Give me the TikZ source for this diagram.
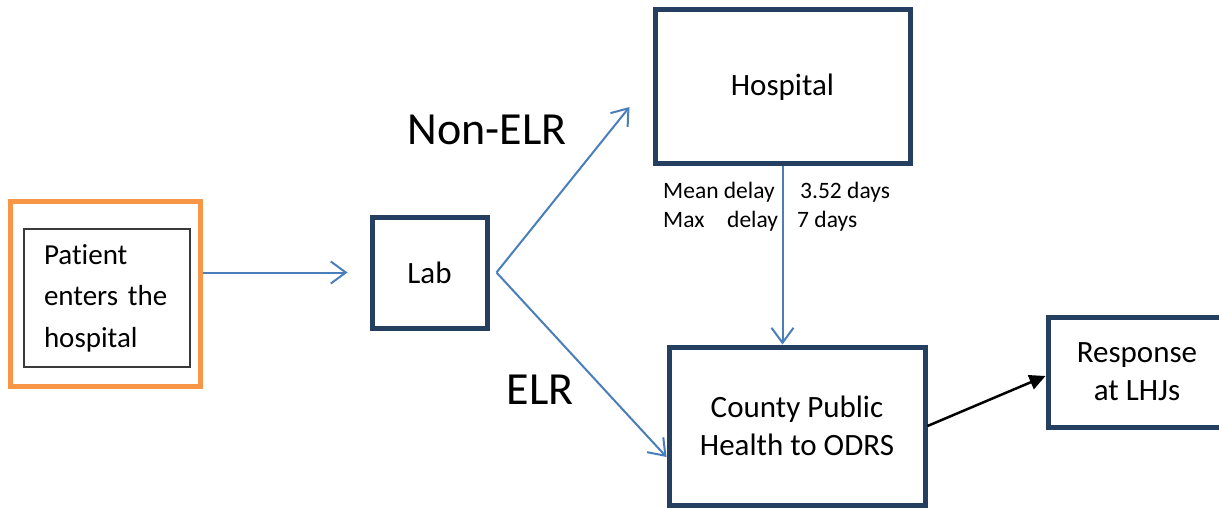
\documentclass[tikz,border=0pt]{standalone}
\usepackage{fontspec}
\setmainfont{Carlito}[Ligatures={NoCommon,NoRequired,NoContextual}]
\usetikzlibrary{arrows.meta}
\definecolor{navy}{HTML}{243F60}
\definecolor{flow}{HTML}{4A7EBB}
\definecolor{orangeb}{HTML}{F79646}
\definecolor{innerb}{HTML}{3A3A3A}
\tikzset{
  box/.style={draw=navy, line width=5pt, align=center, inner sep=0pt, font=\fontsize{31}{37}\selectfont},
  bluearrow/.style={draw=flow, line width=2pt, -{Straight Barb[length=15pt,width=22pt]}},
  blackarrow/.style={draw=black, line width=2.5pt, -{Triangle[length=16pt,width=15pt]}},
  biglabel/.style={font=\fontsize{46}{50}\selectfont, inner sep=0pt},
  delaytxt/.style={font=\fontsize{23.5}{28}\selectfont, inner sep=0pt, anchor=base west}
}
\begin{document}
\begin{tikzpicture}[x=1pt,y=-1pt]
\useasboundingbox (0,0) rectangle (1219,508);
% patient
\node[draw=orangeb, line width=5pt, minimum width=190pt, minimum height=184pt, inner sep=0pt] (outer) at (105,294) {};
\node[draw=innerb, line width=1.3pt, text width=126pt, inner xsep=20pt, minimum height=138pt, align=left,
      font=\fontsize{29}{41.5}\selectfont] (patient) at (107,298) {Patient\\enters the\\hospital};
% boxes
\node[box, minimum width=115pt, minimum height=111pt] (lab) at (429.5,272.5) {Lab};
\node[box, minimum width=255pt, minimum height=154pt] (hospital) at (782.5,87) {Hospital};
\node[box, minimum width=256pt, minimum height=158pt, font=\fontsize{31}{37.5}\selectfont] (county) at (797,426) {County Public\\Health to ODRS};
\node[box, minimum width=178pt, minimum height=110pt, font=\fontsize{31}{38}\selectfont] (response) at (1137,372) {Response\\at LHJs};
% labels
\node[biglabel] (nonelr) at (487,130) {Non-ELR};
\node[biglabel] (elr) at (540,390) {ELR};
\node[delaytxt] (mean) at (663,198) {Mean delay};
\node[delaytxt] (meanv) at (800,198) {3.52 days};
\node[delaytxt] (max) at (663,227) {Max};
\node[delaytxt] (maxd) at (727,227) {delay};
\node[delaytxt] (maxv) at (797,227) {7 days};
% connectors
\coordinate (split) at ([xshift=7pt]lab.east);
\draw[bluearrow] (outer.east |- lab.west) -- ([xshift=-22pt]lab.west);
\draw[bluearrow] (split) -- ([xshift=-23pt,yshift=-20pt]hospital.west);
\draw[bluearrow] (split) -- ([yshift=-31pt]county.west);
\draw[bluearrow] (hospital.south) -- (hospital.south |- county.north);
\draw[blackarrow] (county.east) -- ([yshift=-4pt]response.west);
\end{tikzpicture}
\end{document}
